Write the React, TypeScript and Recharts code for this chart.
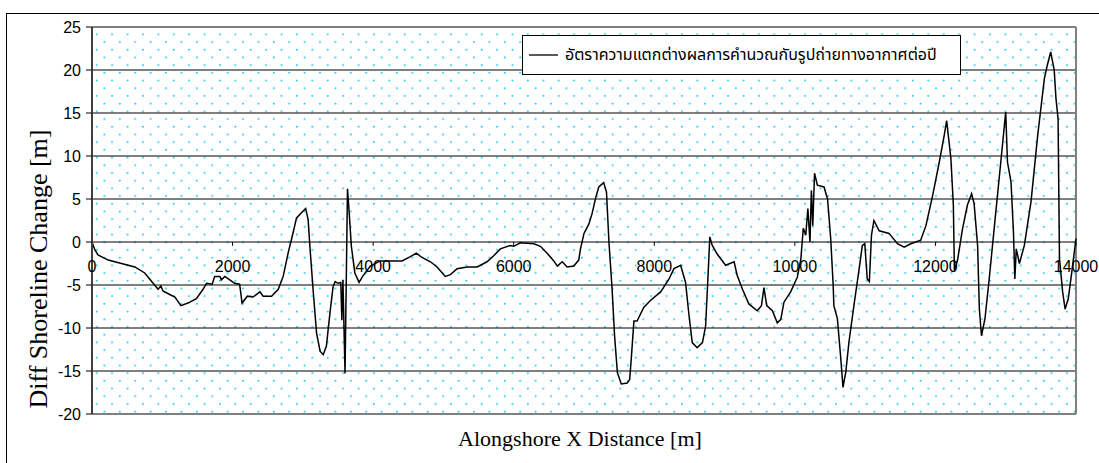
import {
  LineChart,
  Line,
  XAxis,
  YAxis,
  CartesianGrid,
  ReferenceLine,
  Legend,
  Label,
} from "recharts";

// alongshore distance [m] and the yearly difference vs. aerial photos [m]
const distance = [
  0, 40, 85, 230, 420, 610, 750, 870, 940, 980, 1010, 1105, 1180, 1265, 1365,
  1485, 1580, 1630, 1710, 1745, 1820, 1840, 1890, 1960, 2030, 2100, 2135, 2210,
  2290, 2390, 2435, 2555, 2650, 2720, 2790, 2850, 2910, 2980, 3040, 3075, 3100,
  3145, 3195, 3245, 3290, 3335, 3385, 3430, 3460, 3500, 3540, 3555, 3570, 3600,
  3635, 3660, 3690, 3740, 3800, 3850, 3960, 4100, 4290, 4410, 4530, 4615, 4695,
  4815, 4910, 5025, 5100, 5195, 5335, 5480, 5620, 5715, 5810, 5950, 6000, 6095,
  6285, 6380, 6475, 6570, 6620, 6690, 6760, 6855, 6925, 6950, 7000, 7070, 7115,
  7165, 7210, 7280, 7320, 7355, 7400, 7435, 7475, 7530, 7615, 7650, 7675, 7710,
  7755, 7850, 7945, 8090, 8210, 8280, 8375, 8445, 8495, 8540, 8610, 8685, 8730,
  8765, 8790, 8825, 8895, 9015, 9135, 9180, 9255, 9345, 9465, 9525, 9560, 9600,
  9680, 9750, 9800, 9845, 9940, 10035, 10085, 10120, 10155, 10185, 10215, 10235,
  10255, 10280, 10320, 10415, 10465, 10510, 10545, 10555, 10605, 10650, 10685,
  10725, 10770, 10840, 10915, 10960, 10995, 11030, 11060, 11090, 11125, 11200,
  11340, 11460, 11555, 11650, 11790, 11865, 11960, 12055, 12125, 12160, 12220,
  12255, 12270, 12315, 12385, 12455, 12515, 12550, 12600, 12625, 12655, 12705,
  12765, 12835, 12930, 13000, 13025, 13075, 13110, 13130, 13150, 13195, 13265,
  13360, 13455, 13550, 13590, 13640, 13690, 13715, 13745, 13765, 13810, 13845,
  13890, 13940, 14000,
];

const diffChange = [
  0, -0.9, -1.5, -2.1, -2.5, -2.9, -3.6, -4.8, -5.5, -5.1, -5.7, -6.1, -6.4,
  -7.4, -7.1, -6.6, -5.5, -4.8, -4.9, -4.0, -4.0, -4.4, -4.0, -4.4, -4.8, -4.9,
  -7.1, -6.3, -6.4, -5.8, -6.3, -6.3, -5.5, -4.0, -1.3, 0.7, 2.8, 3.4, 3.9, 2.6,
  -0.5, -5.5, -10.6, -12.7, -13.1, -12.1, -8.3, -5.2, -4.6, -4.8, -4.7, -9.1,
  -4.4, -15.3, 6.2, 3.3, -0.5, -3.6, -4.7, -4.0, -2.8, -2.2, -2.2, -2.2, -1.7,
  -1.3, -1.8, -2.3, -2.9, -4.0, -3.8, -3.1, -2.9, -2.9, -2.3, -1.6, -0.8, -0.4,
  -0.5, -0.1, -0.2, -0.5, -1.3, -2.2, -2.8, -2.3, -2.9, -2.8, -2.1, -0.8, 1.0,
  2.1, 3.3, 5.1, 6.4, 6.9, 5.8, 0.0, -5.5, -10.9, -15.2, -16.5, -16.4, -16.0,
  -13.3, -9.2, -9.2, -7.6, -6.8, -5.8, -4.3, -3.1, -2.7, -4.7, -8.6, -11.7,
  -12.3, -11.7, -9.8, -3.9, 0.6, -0.4, -1.4, -2.7, -2.3, -3.9, -5.5, -7.2, -8.0,
  -7.4, -5.3, -7.4, -8.0, -9.4, -9.0, -7.0, -5.8, -4.1, -2.0, 1.6, 0.8, 3.9, 0.0,
  6.0, 1.9, 8.0, 6.6, 6.4, 5.0, 0.4, -5.0, -7.4, -8.9, -13.2, -16.9, -15.1,
  -11.6, -7.4, -3.1, -0.4, -0.2, -4.3, -4.6, 0.8, 2.5, 1.3, 1.0, -0.2, -0.6,
  -0.2, 0.2, 1.9, 5.4, 9.3, 12.4, 14.1, 9.7, 4.3, -3.3, -2.1, 1.5, 4.3, 5.6, 4.5,
  -0.4, -7.8, -10.9, -8.9, -4.3, 1.5, 9.3, 15.1, 9.3, 7.0, 1.2, -4.3, -0.8,
  -2.5, -0.4, 4.7, 12.4, 19.0, 20.5, 22.1, 20.0, 16.7, 14.3, -1.9, -5.8, -7.8,
  -6.6, -3.5, 0.4,
];

const xTicks = [0, 2000, 4000, 6000, 8000, 10000, 12000, 14000];
const yTicks = [-20, -15, -10, -5, 0, 5, 10, 15, 20, 25];

const seriesName = "อัตราความแตกต่างผลการคำนวณกับรูปถ่ายทางอากาศต่อปี";

const data = distance.map((x, i) => ({ x, v: diffChange[i] }));

const W = 1099;
const H = 463;
const serif = "'Times New Roman', 'Liberation Serif', serif";

function LegendBox() {
  return (
    <div
      style={{
        width: 437,
        height: 38,
        border: "1px solid #000",
        background: "#fff",
        display: "flex",
        alignItems: "center",
      }}
    >
      <svg width={36} height={10} style={{ marginLeft: 6, flex: "none" }}>
        <line x1={0} y1={5} x2={29} y2={5} stroke="#000" strokeWidth={1.3} />
      </svg>
      <span
        style={{
          fontFamily: "'Noto Sans Thai', Tahoma, 'DejaVu Sans', sans-serif",
          fontSize: 16,
          color: "#000",
          whiteSpace: "nowrap",
        }}
      >
        {seriesName}
      </span>
    </div>
  );
}

export default function App() {
  return (
    <div
      style={{
        position: "absolute",
        left: 0,
        top: 0,
        width: W,
        height: H,
        overflow: "hidden",
        background: "#fff",
      }}
    >
      {/* outer chart frame; only its top and left edges fall inside the picture */}
      <div
        style={{
          position: "absolute",
          left: 6,
          top: 13,
          width: 1200,
          height: 600,
          border: "1px solid #000",
        }}
      />
      <LineChart
        width={W}
        height={H}
        data={data}
        margin={{ top: 27, right: 23, bottom: 49, left: 32 }}
        style={{
          position: "absolute",
          left: 0,
          top: 0,
          fontFamily: "Arial, 'Liberation Sans', sans-serif",
        }}
      >
        <defs>
          <pattern
            id="dots"
            patternUnits="userSpaceOnUse"
            x={92}
            y={23}
            width={15.4}
            height={15.4}
          >
            <rect width={15.4} height={15.4} fill="#fff" />
            <circle cx={4.7} cy={11.3} r={1} fill="#1ec8f5" />
            <circle cx={12.4} cy={3.6} r={1} fill="#1ec8f5" />
          </pattern>
        </defs>
        <CartesianGrid
          vertical={false}
          horizontal
          stroke="#000"
          strokeWidth={1}
          fill="url(#dots)"
          fillOpacity={1}
        />
        <XAxis
          dataKey="x"
          type="number"
          domain={[0, 14000]}
          ticks={xTicks}
          hide
        />
        <YAxis
          type="number"
          domain={[-20, 25]}
          ticks={yTicks}
          interval={0}
          width={60}
          tickSize={6}
          tickMargin={5}
          axisLine={{ stroke: "#404040", strokeWidth: 2 }}
          tickLine={{ stroke: "#000" }}
          tick={{ fontSize: 16, fill: "#000" }}
        >
          <Label
            content={() => (
              <text
                x={38}
                y={269}
                transform="rotate(-90 38 269)"
                textAnchor="middle"
                dominantBaseline="central"
                fontFamily={serif}
                fontSize={26}
                fill="#000"
              >
                Diff Shoreline Change [m]
              </text>
            )}
          />
        </YAxis>
        <ReferenceLine y={25} stroke="#808080" strokeWidth={1.5} />
        <ReferenceLine y={-20} stroke="#808080" strokeWidth={2} />
        <ReferenceLine x={14000} stroke="#808080" strokeWidth={2} />
        {xTicks.map((t) => (
          <ReferenceLine
            key={t}
            segment={[
              { x: t, y: 0 },
              { x: t, y: -0.45 },
            ]}
            stroke="#000"
            label={{
              value: t,
              position: "bottom",
              offset: 15,
              fontSize: 16,
              fill: "#000",
            }}
          />
        ))}
        <Line
          type="linear"
          dataKey="v"
          stroke="#000"
          strokeWidth={1.5}
          dot={false}
          activeDot={false}
          isAnimationActive={false}
        />
        <Legend
          layout="vertical"
          align="center"
          verticalAlign="middle"
          wrapperStyle={{ left: 522, top: 35, width: "auto", height: "auto" }}
          content={() => <LegendBox />}
        />
      </LineChart>
      <div
        style={{
          position: "absolute",
          left: 0,
          width: 1160,
          top: 426,
          textAlign: "center",
          fontFamily: serif,
          fontSize: 22,
          color: "#000",
        }}
      >
        Alongshore X Distance [m]
      </div>
    </div>
  );
}
